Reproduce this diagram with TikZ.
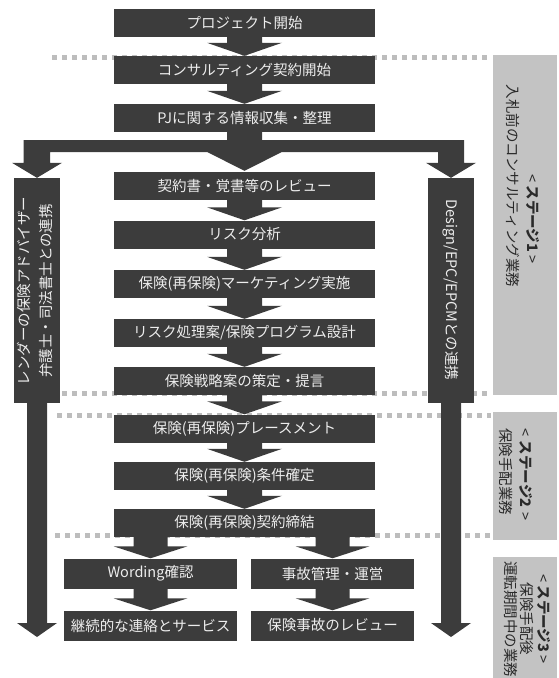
\documentclass[tikz,border=0pt]{standalone}
\usepackage{fontspec}
\setmainfont{Noto Sans CJK JP}
\usetikzlibrary{calc}
\definecolor{boxfill}{HTML}{3C3C3C}
\definecolor{boxtext}{HTML}{EDEDED}
\definecolor{panelfill}{HTML}{C3C3C3}
\definecolor{paneltext}{HTML}{2A2A2A}
\definecolor{dotcol}{HTML}{BDBDBD}
\newcommand\bxfont{\fontsize{14.5}{17}\selectfont}
\newcommand\varrow[5]{%
  \fill[arrowfill] let \p1=(#1), \p2=(#2) in
  (\x2-#3pt,\y1) -- (\x2-#3pt,\y2+#5pt) -- (\x2-#4pt,\y2+#5pt) -- (\x2,\y2)
  -- (\x2+#4pt,\y2+#5pt) -- (\x2+#3pt,\y2+#5pt) -- (\x2+#3pt,\y1) -- cycle;}
\tikzset{
  arrowfill/.style={fill=boxfill},
  mainbox/.style={fill=boxfill, text=boxtext, minimum width=261pt, minimum height=28pt, inner sep=0pt, font=\bxfont},
  subbox/.style={fill=boxfill, text=boxtext, minimum height=30pt, inner sep=0pt, font=\bxfont},
  sidebar/.style={fill=boxfill, minimum width=46pt, minimum height=225pt, inner sep=0pt},
  sidetext/.style={text=boxtext, font=\bxfont, inner sep=0pt, align=center},
  panel/.style={fill=panelfill, minimum width=64pt, inner sep=0pt},
  paneltxt/.style={text=paneltext, font=\bxfont, inner sep=0pt, rotate=-90},
  dotline/.style={draw=dotcol, line width=5pt, dash pattern=on 5pt off 5pt}
}
\begin{document}
\begin{tikzpicture}[x=1pt,y=-1pt]
\useasboundingbox (0,0) rectangle (558,678);
% separators
\draw[dotline] (52,57.5) -- (491,57.5);
\draw[dotline] (62,393) -- (491,393);
\draw[dotline] (57,415.5) -- (491,415.5);
\draw[dotline] (55,535.5) -- (491,535.5);
% stage panels
\node[panel, minimum height=340pt] (p1) at (525,225) {};
\node[panel, minimum height=128pt] (p2) at (525,476) {};
\node[panel, minimum height=121pt] (p3) at (525,617.5) {};
\node[paneltxt] (p1a) at (533,219) {< \textbf{ステージ1} >};
\node[paneltxt] (p1b) at (513,186) {入札前のコンサルティング業務};
\node[paneltxt, align=left, text width=100pt, text depth=0pt] (p2t) at (527,478) {< \textbf{ステージ2} >\\[3pt]保険手配業務};
\node[paneltxt, align=center, font=\fontsize{14.5}{16.5}\selectfont] (p3t) at (527,619) {< \textbf{ステージ3} >\\保険手配後\\運転期間中の業務};
% main column
\node[mainbox] (b1) at (244.5,23) {プロジェクト開始};
\node[mainbox] (b2) at (244.5,70) {コンサルティング契約開始};
\node[mainbox] (b3) at (244.5,118) {PJに関する情報収集・整理};
\node[mainbox] (b4) at (244.5,186) {契約書・覚書等のレビュー};
\node[mainbox] (b5) at (244.5,234.5) {リスク分析};
\node[mainbox] (b6) at (244.5,284) {保険(再保険)マーケティング実施};
\node[mainbox] (b7) at (244.5,333) {リスク処理案/保険プログラム設計};
\node[mainbox] (b8) at (244.5,381) {保険戦略案の策定・提言};
\node[mainbox] (b9) at (244.5,428.5) {保険(再保険)プレースメント};
\node[mainbox] (b10) at (244.5,476) {保険(再保険)条件確定};
\node[mainbox] (b11) at (244.5,523) {保険(再保険)契約締結};
% stage 3 boxes
\node[subbox, minimum width=173pt] (c1) at (150.5,573.5) {Wording確認};
\node[subbox, minimum width=163pt] (c2) at (332.5,573.5) {事故管理・運営};
\node[subbox, minimum width=173pt] (c3) at (150.5,625.5) {継続的な連絡とサービス};
\node[subbox, minimum width=163pt] (c4) at (332.5,625.5) {保険事故のレビュー};
% side bars
\node[sidebar] (lbar) at (37,290.5) {};
\node[sidebar] (rbar) at (451,290.5) {};
\node[sidetext, rotate=90, font=\fontsize{14.5}{22}\selectfont] (lbart) at (35,291) {レンダーの保険アドバイザー\\弁護士・司法書士との連携};
\node[sidetext, rotate=-90] (rbart) at (451,290) {Design/EPC/EPCMとの連携};
\coordinate (ltip) at (37,637);
\coordinate (rtip) at (451,637);
% arrows
\varrow{b1.south}{b2.north}{17.5}{37.5}{13}
\varrow{b2.south}{b3.north}{17.5}{37.5}{13}
\varrow{b4.south}{b5.north}{17.5}{37.5}{13}
\varrow{b5.south}{b6.north}{17.5}{37.5}{13}
\varrow{b6.south}{b7.north}{17.5}{37.5}{13}
\varrow{b7.south}{b8.north}{17.5}{37.5}{13}
\varrow{b8.south}{b9.north}{17.5}{37.5}{13}
\varrow{b9.south}{b10.north}{17.5}{37.5}{13}
\varrow{b10.south}{b11.north}{17.5}{37.5}{13}
\varrow{b11.south -| c1.north}{c1.north}{17}{37}{12}
\varrow{b11.south -| c2.north}{c2.north}{17}{37}{12}
\varrow{c1.south}{c3.north}{17}{37}{12}
\varrow{c2.south}{c4.north}{17}{37}{12}
\varrow{lbar.south}{ltip}{10}{20}{14}
\varrow{rbar.south}{rtip}{10}{20}{14}
% split arrow from b3
\fill[arrowfill] let \p{s}=(b3.south), \p{l}=(lbar.north), \p{r}=(rbar.north), \p{t}=(b4.north) in
  (\x{s}-17.5pt,\y{s}) -- (\x{s}-17.5pt,\y{s}-8pt) -- (\x{l}-13.5pt,\y{s}-8pt)
  -- (\x{l}-13.5pt,\y{l}+15pt) -- (\x{l}-25pt,\y{l}+15pt) -- (\x{l},\y{l})
  -- (\x{l}+25pt,\y{l}+15pt) -- (\x{l}+13pt,\y{l}+15pt) -- (\x{l}+13pt,\y{s}-20pt)
  -- (\x{t}-37pt,\y{s}-20pt) -- (\x{t},\y{t}+1pt) -- (\x{t}+37pt,\y{s}-20pt)
  -- (\x{r}-13pt,\y{s}-20pt) -- (\x{r}-13pt,\y{r}+15pt)
  -- (\x{r}-25pt,\y{r}+15pt) -- (\x{r},\y{r}) -- (\x{r}+25pt,\y{r}+15pt)
  -- (\x{r}+13pt,\y{r}+15pt) -- (\x{r}+13pt,\y{s}-8pt) -- (\x{s}+17.5pt,\y{s}-8pt)
  -- (\x{s}+17.5pt,\y{s}) -- cycle;
\end{tikzpicture}
\end{document}
